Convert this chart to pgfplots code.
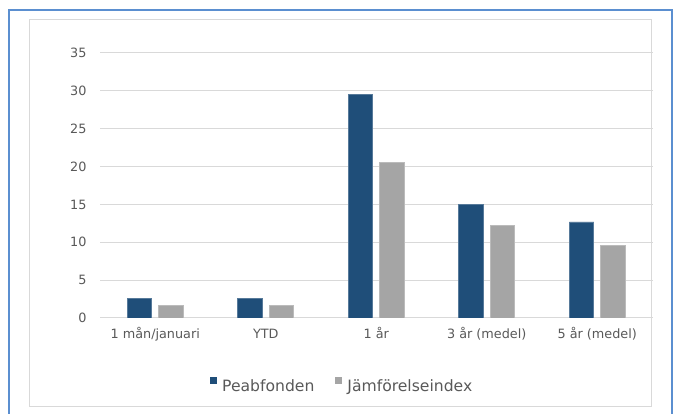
\documentclass[border=0pt]{standalone}
\usepackage{fontspec}
\setmainfont{DejaVu Sans}
\usepackage{pgfplots}
\pgfplotsset{compat=1.18}
\definecolor{peab}{HTML}{1F4E79}
\definecolor{jamf}{HTML}{A5A5A5}
\definecolor{gridc}{HTML}{D9D9D9}
\definecolor{tickc}{HTML}{595959}
\definecolor{frameblue}{HTML}{5B8FD0}
\definecolor{titleblue}{HTML}{2E75B6}
\begin{document}
\begin{tikzpicture}
\useasboundingbox (-100pt,-96pt) rectangle (576pt,318pt);
\fill[white] (-100pt,-96pt) rectangle (576pt,318pt);
\node[anchor=base west, inner sep=0pt, font=\bfseries\fontsize{30}{30}\selectfont, text=titleblue] at (-91pt,324.5pt) {Avkastning (totalt)};
\draw[frameblue, line width=2pt] (-90.5pt,-120pt) -- (-90.5pt,308pt) -- (572pt,308pt) -- (572pt,-120pt);
\draw[gridc, line width=1pt] (-70.7pt,-88pt) rectangle (551.7pt,298.7pt);
\begin{axis}[
  at={(0pt,0pt)}, anchor=south west,
  scale only axis, width=552.5pt, height=265pt,
  xmin=-0.5, xmax=4.5, ymin=0, ymax=35,
  enlargelimits=false,
  ytick={0,5,...,35},
  xtick={0,1,2,3,4},
  xticklabels={1 mån/januari, YTD, 1 år, 3 år (medel), 5 år (medel)},
  ymajorgrids, grid style={gridc, line width=1pt},
  axis x line*=bottom, axis y line*=left,
  separate axis lines,
  x axis line style={gridc, line width=1pt, -},
  y axis line style={draw=none},
  major tick length=0pt, tick style={draw=none},
  /pgf/number format/assume math mode=true,
  tick label style={font=\fontsize{12.8}{12.8}\selectfont, text=tickc},
  yticklabel style={anchor=east, inner sep=0pt, xshift=-13.3pt},
  xticklabel style={anchor=base, inner sep=0pt, yshift=-20.5pt},
  ybar=7pt, bar width=24.5pt,
  legend columns=2,
  legend style={at={(0.1991,-0.2528)}, anchor=west, draw=none, fill=none, inner sep=0pt,
    font=\fontsize{15.6}{15.6}\selectfont, text=tickc,
    nodes={inner sep=0pt},
    /tikz/every odd column/.append style={column sep=5pt},
    /tikz/every even column/.append style={column sep=21pt}},
  legend image code/.code={\path[#1, draw=none] (0pt,3pt) rectangle (7pt,10pt);},
]
\addplot[fill=peab, draw=peab!75!white, line width=0.6pt] coordinates {(0,2.6) (1,2.6) (2,29.5) (3,15.0) (4,12.7)};
\addplot[fill=jamf, draw=jamf!75!white, line width=0.6pt] coordinates {(0,1.7) (1,1.7) (2,20.6) (3,12.2) (4,9.6)};
\legend{Peabfonden, Jämförelseindex}
\end{axis}
\end{tikzpicture}
\end{document}
